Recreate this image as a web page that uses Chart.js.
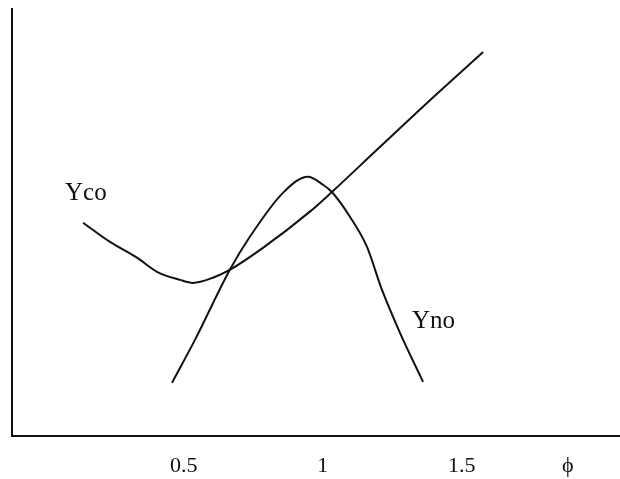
<!DOCTYPE html>
<html>
<head>
<meta charset="utf-8">
<script src="https://cdn.jsdelivr.net/npm/chart.js@4.4.1/dist/chart.umd.min.js"></script>
<style>
html,body{margin:0;padding:0;background:#fff;}
#wrap{width:620px;height:479px;}
</style>
</head>
<body>
<div id="wrap"><canvas id="c" width="620" height="479"></canvas></div>
<script>
// Equivalence ratio (phi) values and relative yields (arbitrary units, axis 0..100)
const ycoPhi = [0.138, 0.235, 0.332, 0.404, 0.487, 0.533, 0.605, 0.667, 0.785, 0.954, 1.033, 1.195, 1.384, 1.577];
const ycoVal = [49.9, 45.4, 41.7, 38.4, 36.5, 35.8, 37.0, 38.9, 44.0, 52.5, 57.1, 67.0, 78.5, 89.9];

const ynoPhi = [0.458, 0.541, 0.667, 0.738, 0.857, 0.947, 1.001, 1.033, 1.098, 1.159, 1.213, 1.278, 1.361];
const ynoVal = [12.4, 22.5, 39.0, 46.6, 56.9, 60.7, 58.8, 57.1, 51.3, 44.3, 34.2, 24.1, 12.6];

const xTickValues = [0.5, 1, 1.5, 1.882];
const xTickLabels = ['0.5', '1', '1.5', 'ϕ'];

const seriesNames = ['Yco', 'Yno'];
const labelPhi = [0.073, 1.321];
const labelVal = [56.7, 26.7];

const toPts = (xs, ys) => xs.map((x, i) => ({x: x, y: ys[i]}));

const curveLabels = {
  id: 'curveLabels',
  afterDatasetsDraw(chart) {
    const {ctx, scales} = chart;
    ctx.save();
    ctx.fillStyle = '#111';
    ctx.font = '25px "Liberation Serif", "Times New Roman", serif';
    ctx.textAlign = 'left';
    ctx.textBaseline = 'middle';
    seriesNames.forEach((n, i) => {
      ctx.fillText(n, scales.x.getPixelForValue(labelPhi[i]), scales.y.getPixelForValue(labelVal[i]));
    });
    ctx.restore();
  }
};

new Chart(document.getElementById('c'), {
  type: 'line',
  data: {
    datasets: [
      {label: seriesNames[0], data: toPts(ycoPhi, ycoVal), borderColor: '#111', borderWidth: 2, pointRadius: 0, cubicInterpolationMode: 'monotone', fill: false},
      {label: seriesNames[1], data: toPts(ynoPhi, ynoVal), borderColor: '#111', borderWidth: 2, pointRadius: 0, cubicInterpolationMode: 'monotone', fill: false}
    ]
  },
  options: {
    responsive: false,
    animation: false,
    layout: {padding: {left: 12, top: 9, right: 0, bottom: -17}},
    plugins: {legend: {display: false}, tooltip: {enabled: false}},
    scales: {
      x: {
        type: 'linear',
        min: -0.1176,
        max: 2.0694,
        grid: {display: false, drawTicks: false},
        border: {display: true, color: '#111', width: 2},
        afterBuildTicks: (scale) => { scale.ticks = xTickValues.map(v => ({value: v})); },
        ticks: {
          autoSkip: false,
          maxRotation: 0,
          padding: 17,
          color: '#111',
          font: {family: '"Liberation Serif", "Times New Roman", serif', size: 22},
          callback: (v, i) => xTickLabels[i]
        }
      },
      y: {
        type: 'linear',
        min: 0,
        max: 100,
        grid: {display: false, drawTicks: false},
        border: {display: true, color: '#111', width: 2},
        ticks: {display: false}
      }
    }
  },
  plugins: [curveLabels]
});
</script>
</body>
</html>
